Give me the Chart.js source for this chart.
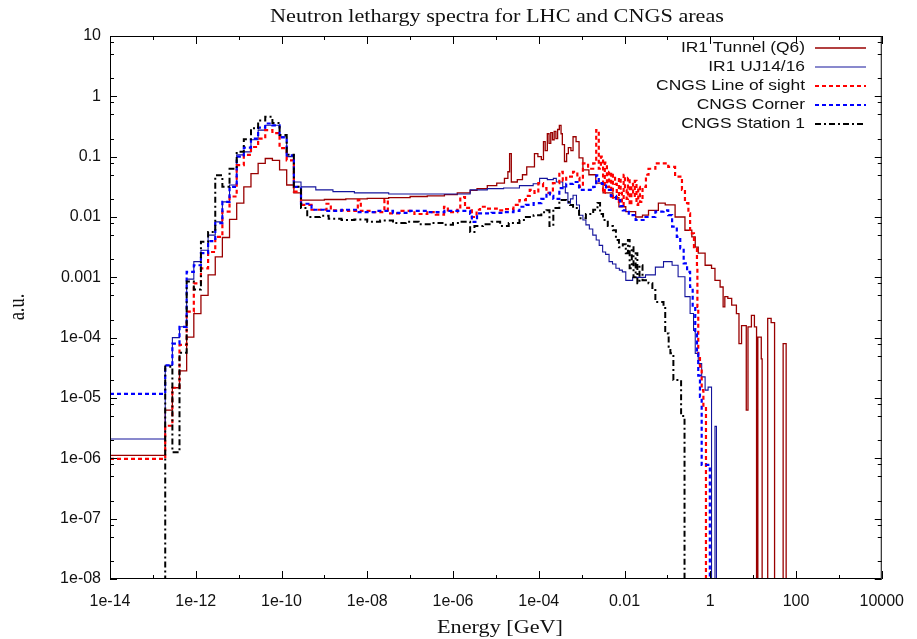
<!DOCTYPE html>
<html><head><meta charset="utf-8">
<script src="https://cdn.jsdelivr.net/npm/chart.js@4/dist/chart.umd.min.js"></script>
<style>html,body{margin:0;padding:0;background:#fff}#wrap{width:917px;height:639px}</style>
</head><body><div id="wrap"><canvas id="c" width="917" height="639"></canvas></div>
<script>
// ---- axis ticks ----
const xTickValues = [1e-14,1e-12,1e-10,1e-8,1e-6,1e-4,1e-2,1,1e2,1e4];
const xTickLabels = ["1e-14","1e-12","1e-10","1e-08","1e-06","1e-04","0.01","1","100","10000"];
const xMinorValues = [1e-13,1e-11,1e-9,1e-7,1e-5,1e-3,1e-1,1e1,1e3];
const yTickValues = [1e-8,1e-7,1e-6,1e-5,1e-4,1e-3,1e-2,1e-1,1,10];
const yTickLabels = ["1e-08","1e-07","1e-06","1e-05","1e-04","0.001","0.01","0.1","1","10"];
const yMinorMantissas = [2,5,8];

const seriesLabels = ["IR1 Tunnel (Q6)","IR1 UJ14/16","CNGS Line of sight","CNGS Corner","CNGS Station 1"];

// ---- data: log10(energy [GeV]) of bin left edges, log10(a.u.) of bin values ----
// low-energy bins shared by all series (first bin is the flat one from 1e-14)
const lowLogE = [-14,-12.712,-12.545,-12.379,-12.212,-12.045,-11.879,-11.712,-11.545,-11.379,-11.212,-11.045,-10.879,-10.712,-10.545,-10.379,-10.212,-10.045,-9.879,-9.712];
const tunnelLow  = [-5.95,-5.2,-4.83,-4.55,-3.99,-3.6,-3.3,-2.96,-2.66,-2.34,-2.04,-1.77,-1.5,-1.28,-1.11,-1.03,-1.06,-1.22,-1.47,-1.6];
const ujLow      = [-5.68,-4.46,-4.0,-3.82,-3.03,-2.74,-2.55,-2.3,-2.08,-1.75,-1.47,-0.97,-0.92,-0.72,-0.56,-0.48,-0.48,-0.67,-1.0,-1.42];
const losLow     = [-6.01,-5.46,-4.83,-4.12,-3.57,-3.1,-2.85,-2.58,-2.33,-1.91,-1.66,-1.14,-0.97,-0.84,-0.70,-0.56,-0.61,-0.86,-1.06,-1.58];
const cornerLow  = [-4.93,-4.46,-4.10,-3.82,-2.91,-2.8,-2.6,-2.4,-2.1,-1.75,-1.5,-1.0,-0.85,-0.7,-0.52,-0.45,-0.48,-0.68,-0.98,-1.5];
const stationLow = [-12,-4.48,-5.9,-4.25,-3.07,-3.2,-2.41,-2.25,-1.31,-1.5,-1.2,-0.92,-0.71,-0.53,-0.40,-0.34,-0.44,-0.64,-0.97,-1.5];

const tunnelHighE = [-9.545,-9.0,-8.5,-8.0,-7.5,-7.0,-6.6,-6.2,-5.9,-5.6,-5.44,-5.2,-4.98,-4.8,-4.72,-4.68,-4.64,-4.5,-4.38,-4.28,-4.1,-4.02,-3.94,-3.89,-3.85,-3.8,-3.76,-3.72,-3.68,-3.64,-3.6,-3.56,-3.52,-3.48,-3.45,-3.4,-3.35,-3.31,-3.25,-3.2,-3.13,-3.06,-2.97,-2.83,-2.67,-2.5,-2.27,-2.13,-1.97,-1.74,-1.58,-1.44,-1.21,-1.05,-0.82,-0.59,-0.43,-0.35,-0.28,-0.12,0.03,0.11,0.23,0.30,0.34,0.41,0.50,0.61,0.67,0.73,0.84,0.88,0.96,1.03,1.08,1.11,1.19,1.21,1.34,1.42,1.50,1.70,1.77,4.0];
const tunnelHighV = [-1.72,-1.71,-1.70,-1.69,-1.68,-1.66,-1.65,-1.63,-1.60,-1.56,-1.53,-1.48,-1.44,-1.36,-1.25,-0.95,-1.42,-1.38,-1.3,-1.17,-0.95,-1.0,-1.05,-0.75,-0.9,-0.62,-0.78,-0.6,-0.72,-0.58,-0.7,-0.55,-0.48,-0.62,-0.8,-1.08,-0.95,-0.85,-0.9,-0.67,-0.75,-1.02,-1.22,-1.3,-1.44,-1.6,-1.68,-1.83,-1.91,-2.0,-1.97,-1.89,-1.77,-1.8,-2.0,-2.22,-2.33,-2.5,-2.6,-2.8,-2.85,-3.05,-3.16,-3.49,-3.32,-3.35,-3.46,-3.6,-4.1,-3.8,-5.2,-3.82,-3.63,-3.82,-12,-3.99,-4.35,-12,-3.68,-3.75,-12,-4.1,-12,-12];

const ujHighE = [-9.545,-9.2,-8.8,-8.3,-7.5,-6.5,-6.0,-5.6,-5.2,-4.82,-4.45,-4.13,-3.98,-3.8,-3.66,-3.59,-3.44,-3.38,-3.32,-3.26,-3.2,-3.12,-3.05,-2.97,-2.9,-2.82,-2.74,-2.66,-2.59,-2.51,-2.44,-2.36,-2.28,-2.2,-2.12,-2.05,-1.97,-1.81,-1.74,-1.51,-1.28,-1.09,-0.89,-0.75,-0.59,-0.47,-0.39,-0.35,-0.28,-0.20,-0.12,-0.05,0.03,0.11,0.145,4.0];
const ujHighV = [-1.5,-1.55,-1.58,-1.6,-1.62,-1.62,-1.62,-1.55,-1.53,-1.52,-1.48,-1.45,-1.36,-1.38,-1.36,-1.42,-1.5,-1.6,-1.77,-1.7,-1.64,-1.8,-1.97,-2.05,-2.13,-2.2,-2.30,-2.38,-2.47,-2.58,-2.62,-2.74,-2.78,-2.85,-2.88,-2.91,-3.05,-3.0,-3.0,-2.96,-2.83,-2.74,-2.8,-2.99,-3.32,-3.6,-3.88,-4.26,-4.43,-4.65,-4.87,-4.82,-12,-5.47,-12,-12];

const losHighE = [-9.545,-9.3,-8.95,-8.85,-8.45,-8.22,-8.15,-7.9,-7.6,-7.52,-7.2,-6.9,-6.6,-6.4,-6.21,-6.12,-6.02,-5.9,-5.83,-5.72,-5.56,-5.45,-5.37,-5.21,-4.98,-4.8,-4.59,-4.45,-4.3,-4.21,-4.1,-4.01,-3.9,-3.82,-3.67,-3.52,-3.44,-3.36,-3.2,-3.1,-3.05,-2.97,-2.85,-2.73,-2.66,-2.6,-2.55,-2.5,-2.46,-2.41,-2.36,-2.31,-2.27,-2.22,-2.18,-2.13,-2.09,-2.06,-2.02,-1.99,-1.95,-1.92,-1.88,-1.84,-1.8,-1.76,-1.72,-1.68,-1.64,-1.58,-1.5,-1.44,-1.28,-1.12,-0.98,-0.82,-0.66,-0.59,-0.51,-0.47,-0.38,-0.31,-0.30,-0.28,-0.24,-0.20,-0.16,-0.10,4.0];
const losHighV = [-1.80,-1.88,-1.78,-1.89,-1.9,-1.72,-1.9,-1.92,-1.72,-1.94,-1.9,-1.95,-1.92,-1.96,-1.83,-1.92,-1.92,-1.88,-1.67,-1.85,-2.0,-1.88,-1.83,-1.86,-1.89,-1.87,-1.8,-1.72,-1.65,-1.55,-1.6,-1.44,-1.52,-1.6,-1.44,-1.25,-1.4,-1.33,-1.25,-1.35,-1.5,-1.11,-1.2,-1.11,-0.56,-1.2,-1.0,-1.6,-1.1,-1.5,-1.25,-1.7,-1.3,-1.45,-1.75,-1.35,-1.6,-1.8,-1.3,-1.55,-1.7,-1.35,-1.8,-1.45,-1.65,-1.4,-1.8,-1.5,-1.75,-1.5,-1.3,-1.2,-1.11,-1.11,-1.17,-1.33,-1.55,-1.77,-1.94,-2.27,-2.5,-2.83,-3.49,-4.32,-4.48,-4.87,-5.15,-12,-12];

const cornerHighE = [-9.545,-9.3,-9.0,-8.6,-8.2,-7.8,-7.4,-7.0,-6.6,-6.2,-5.8,-5.6,-5.56,-5.44,-5.1,-4.8,-4.59,-4.45,-4.3,-4.12,-3.94,-3.82,-3.74,-3.66,-3.52,-3.36,-3.2,-3.06,-2.9,-2.73,-2.66,-2.6,-2.53,-2.43,-2.32,-2.2,-2.1,-2.04,-1.9,-1.74,-1.51,-1.28,-1.09,-0.98,-0.89,-0.78,-0.70,-0.62,-0.54,-0.47,-0.41,-0.35,-0.31,-0.28,-0.24,-0.20,-0.01,4.0];
const cornerHighV = [-1.78,-1.88,-1.9,-1.88,-1.92,-1.9,-1.93,-1.9,-1.92,-1.9,-1.9,-1.95,-2.08,-1.94,-1.93,-1.92,-1.9,-1.83,-1.8,-1.77,-1.7,-1.6,-1.65,-1.7,-1.52,-1.45,-1.42,-1.55,-1.55,-1.5,-1.31,-1.4,-1.45,-1.55,-1.65,-1.72,-1.82,-1.89,-1.97,-2.05,-2.0,-1.91,-1.89,-1.97,-2.16,-2.33,-2.52,-2.77,-2.91,-3.16,-3.49,-3.93,-4.26,-4.63,-4.98,-6.11,-12,-12];

const stationHighE = [-9.545,-9.4,-9.1,-8.9,-8.6,-8.3,-8.0,-7.7,-7.4,-7.1,-6.8,-6.5,-6.2,-6.0,-5.8,-5.6,-5.5,-5.3,-5.1,-4.9,-4.7,-4.45,-4.3,-4.12,-3.94,-3.82,-3.75,-3.66,-3.52,-3.36,-3.27,-3.2,-3.06,-2.9,-2.73,-2.63,-2.57,-2.5,-2.39,-2.27,-2.2,-2.13,-2.04,-1.97,-1.92,-1.88,-1.83,-1.79,-1.74,-1.70,-1.65,-1.58,-1.44,-1.35,-1.28,-1.09,-1.05,-0.97,-0.93,-0.86,-0.68,-0.60,4.0];
const stationHighV = [-1.85,-2.0,-1.98,-2.03,-2.05,-2.04,-2.08,-2.06,-2.1,-2.08,-2.12,-2.1,-2.13,-2.1,-2.08,-2.25,-2.15,-2.12,-2.08,-2.15,-2.1,-2.05,-2.0,-1.97,-1.92,-1.89,-2.15,-1.85,-1.72,-1.75,-1.8,-1.85,-2.02,-1.95,-1.88,-1.77,-1.95,-2.05,-2.15,-2.22,-2.38,-2.5,-2.45,-2.6,-2.38,-2.85,-2.5,-3.0,-2.6,-3.1,-2.8,-3.05,-3.1,-3.21,-3.41,-3.48,-3.93,-4.15,-4.26,-4.70,-5.30,-12,-12];

function toPoints(lowV, highE, highV) {
  const pts = lowLogE.map((e, i) => ({ x: Math.pow(10, e), y: Math.pow(10, lowV[i]) }));
  highE.forEach((e, i) => pts.push({ x: Math.pow(10, e), y: Math.pow(10, highV[i]) }));
  return pts;
}

const seriesStyles = [
  { color: '#990000', width: 1.3, dash: [] },
  { color: '#14149c', width: 1.1, dash: [] },
  { color: '#ff0000', width: 2.2, dash: [4, 3] },
  { color: '#0000ff', width: 2.2, dash: [4, 3] },
  { color: '#000000', width: 2.0, dash: [6, 3, 2, 3] }
];
const seriesData = [
  toPoints(tunnelLow, tunnelHighE, tunnelHighV),
  toPoints(ujLow, ujHighE, ujHighV),
  toPoints(losLow, losHighE, losHighV),
  toPoints(cornerLow, cornerHighE, cornerHighV),
  toPoints(stationLow, stationHighE, stationHighV)
];

const datasets = seriesLabels.map((lab, i) => ({
  label: lab,
  data: seriesData[i],
  borderColor: seriesStyles[i].color,
  borderWidth: seriesStyles[i].width,
  borderDash: seriesStyles[i].dash,
  stepped: true,
  pointRadius: 0,
  fill: false,
  clip: 0,
  order: 4 - i
}));

const decor = {
  id: 'decor',
  afterDraw(chart) {
    const ctx = chart.ctx, a = chart.chartArea;
    const xs = chart.scales.x, ys = chart.scales.y;
    ctx.save();
    // frame
    ctx.strokeStyle = '#000'; ctx.lineWidth = 1; ctx.setLineDash([]);
    ctx.strokeRect(a.left + 0.5, a.top + 0.5, a.right - a.left - 1, a.bottom - a.top - 1);
    ctx.beginPath();
    const tickX = (v, len) => { const p = Math.round(xs.getPixelForValue(v)) + 0.5;
      ctx.moveTo(p, a.bottom); ctx.lineTo(p, a.bottom - len); ctx.moveTo(p, a.top); ctx.lineTo(p, a.top + len); };
    const tickY = (v, len) => { const p = Math.round(ys.getPixelForValue(v)) + 0.5;
      ctx.moveTo(a.left, p); ctx.lineTo(a.left + len, p); ctx.moveTo(a.right, p); ctx.lineTo(a.right - len, p); };
    xTickValues.forEach(v => tickX(v, 8));
    xMinorValues.forEach(v => tickX(v, 4));
    yTickValues.forEach(v => tickY(v, 7));
    for (let n = -8; n < 1; n++) yMinorMantissas.forEach(m => tickY(m * Math.pow(10, n), 4));
    ctx.stroke();
    // title and axis titles
    ctx.fillStyle = '#111';
    ctx.font = '18.5px "Liberation Serif"';
    ctx.textAlign = 'center'; ctx.textBaseline = 'middle';
    ctx.save(); ctx.translate(497, 17); ctx.scale(1.2, 1); ctx.fillText('Neutron lethargy spectra for LHC and CNGS areas', 0, 0); ctx.restore();
    ctx.save(); ctx.translate(500, 628); ctx.scale(1.2, 1); ctx.fillText('Energy [GeV]', 0, 0); ctx.restore();
    ctx.save(); ctx.translate(18, 307); ctx.scale(1.2, 1); ctx.rotate(-Math.PI / 2); ctx.fillText('a.u.', 0, 0); ctx.restore();
    // key
    ctx.font = '14.5px "Liberation Sans"';
    ctx.textAlign = 'right';
    chart.data.datasets.forEach((ds, i) => {
      const y = 48 + i * 19;
      ctx.save(); ctx.translate(805, y); ctx.scale(1.2, 1); ctx.fillStyle = '#111'; ctx.fillText(ds.label, 0, 0); ctx.restore();
      ctx.beginPath(); ctx.setLineDash(ds.borderDash); ctx.strokeStyle = ds.borderColor; ctx.lineWidth = ds.borderWidth;
      ctx.moveTo(815, y); ctx.lineTo(866, y); ctx.stroke();
    });
    ctx.restore();
  }
};

new Chart(document.getElementById('c').getContext('2d'), {
  type: 'line',
  data: { datasets },
  options: {
    responsive: false, animation: false, devicePixelRatio: 1,
    layout: { padding: { left: 0, right: 29, top: 36, bottom: 0 } },
    plugins: { legend: { display: false }, title: { display: false }, tooltip: { enabled: false } },
    scales: {
      x: {
        type: 'logarithmic', position: 'bottom', min: 1e-14, max: 1e4,
        grid: { display: false, drawTicks: false }, border: { display: false },
        afterBuildTicks: s => { s.ticks = xTickValues.map(v => ({ value: v })); },
        afterFit: s => { s.height = 60; },
        ticks: { autoSkip: false, maxRotation: 0, minRotation: 0, padding: 13, color: '#111',
          font: { family: 'Liberation Sans', size: 16 }, callback: (v, i) => xTickLabels[i] }
      },
      y: {
        type: 'logarithmic', position: 'left', min: 1e-8, max: 10,
        grid: { display: false, drawTicks: false }, border: { display: false },
        afterBuildTicks: s => { s.ticks = yTickValues.map(v => ({ value: v })); },
        afterFit: s => { s.width = 110; },
        ticks: { autoSkip: false, padding: 9, color: '#111',
          font: { family: 'Liberation Sans', size: 16 }, callback: (v, i) => yTickLabels[i] }
      }
    }
  },
  plugins: [decor]
});
</script></body></html>
